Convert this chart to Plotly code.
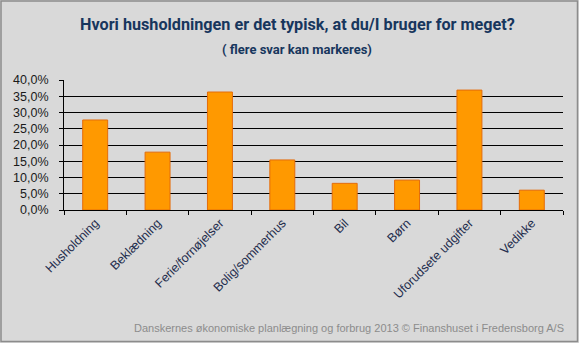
import plotly.graph_objects as go

categories = ["Husholdning", "Beklædning", "Ferie/fornøjelser", "Bolig/sommerhus",
              "Bil", "Børn", "Uforudsete udgifter", "Vedikke"]
values = [0.277, 0.178, 0.363, 0.154, 0.082, 0.092, 0.369, 0.061]
y_ticks = [0, 0.05, 0.10, 0.15, 0.20, 0.25, 0.30, 0.35, 0.40]

title_text = "Hvori husholdningen er det typisk, at du/I bruger for meget?"
subtitle_text = "( flere svar kan markeres)"
footer_text = "Danskernes økonomiske planlægning og forbrug 2013 © Finanshuset i Fredensborg A/S"

W, H = 579, 343
ml, mr, mt, mb = 64, 16, 80, 133
pw, ph = W - ml - mr, H - mt - mb

def px(x):
    return (x - ml) / pw

def py(y):
    return (H - mb - y) / ph

fig = go.Figure(go.Bar(
    x=categories, y=values,
    marker=dict(color="#FF9900", line=dict(color="#E46C0A", width=1)),
    hoverinfo="skip",
))

fig.update_layout(
    width=W, height=H,
    margin=dict(l=ml, r=mr, t=mt, b=mb, pad=0),
    paper_bgcolor="#D9D9D9", plot_bgcolor="#D9D9D9",
    separators=",.",
    bargap=0.6,
    showlegend=False,
    font=dict(family="Liberation Sans, Arial, sans-serif", size=12, color="#000"),
    xaxis=dict(
        type="category", showgrid=False, showline=True, linecolor="#000", linewidth=1,
        ticks="outside", tickson="boundaries", ticklen=4, tickcolor="#000",
        tickangle=-45, tickfont=dict(size=12.5, color="#1F2D4D"),
    ),
    yaxis=dict(
        range=[0, 0.40], tickvals=y_ticks, tickformat=".1%",
        showgrid=True, gridcolor="#000", gridwidth=1,
        showline=True, linecolor="#000", linewidth=1,
        ticks="outside", ticklen=4, tickcolor="#000", ticklabelstandoff=8,
        tickfont=dict(size=12.5, color="#1a1a1a"), zeroline=False,
    ),
    annotations=[
        dict(text=title_text, x=px(297), y=py(24), xref="paper", yref="paper",
             showarrow=False, xanchor="center", yanchor="middle",
             font=dict(family="Roboto, Liberation Sans, sans-serif", weight="bold", size=16.2, color="#17365D")),
        dict(text=subtitle_text, x=px(297), y=py(50), xref="paper", yref="paper",
             showarrow=False, xanchor="center", yanchor="middle",
             font=dict(family="Roboto, Liberation Sans, sans-serif", weight="bold", size=13, color="#17365D")),
        dict(text=footer_text, x=px(566), y=py(328), xref="paper", yref="paper",
             showarrow=False, xanchor="right", yanchor="middle",
             font=dict(family="Liberation Sans, Arial, sans-serif", size=11, color="#8C8C8C")),
    ],
    shapes=[
        dict(type="rect", xref="paper", yref="paper",
             x0=px(1), x1=px(577.5), y0=py(1), y1=py(341.5),
             line=dict(color="#8C8C8C", width=1.5), fillcolor="rgba(0,0,0,0)", layer="above"),
    ],
)

fig.write_html("out.html")
